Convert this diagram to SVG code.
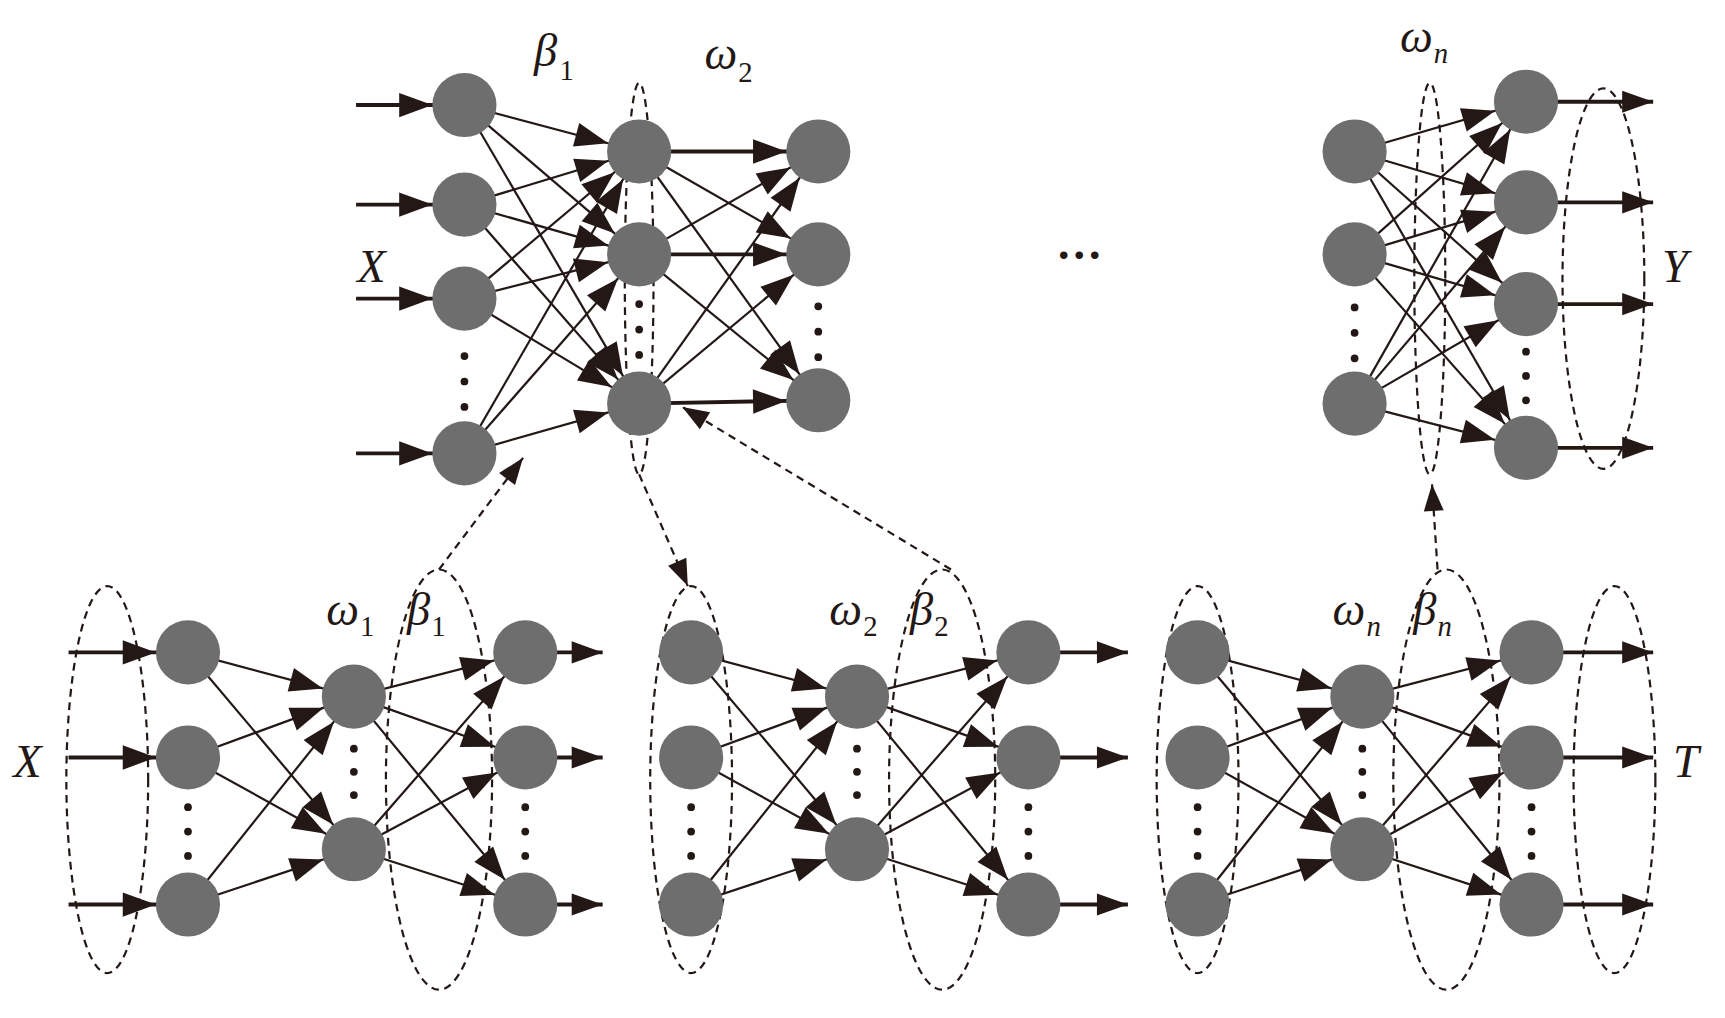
<svg xmlns="http://www.w3.org/2000/svg" width="1725" height="1018" viewBox="0 0 1725 1018">
<style>
.e{stroke:#231815;stroke-width:2;fill:none}
.i{stroke:#231815;stroke-width:3.5;fill:none}
.d{stroke:#231815;stroke-width:2;fill:none;stroke-dasharray:7 5}
.n{fill:#6e6e6e}
.dot{fill:#231815}
text{font-family:"Liberation Serif",serif;font-style:italic;fill:#231815}
.lb{font-size:42px}
.sb{font-size:26px;font-style:normal}
</style>
<defs>
<marker id="a" markerUnits="userSpaceOnUse" markerWidth="70" markerHeight="30" refX="59" refY="11" orient="auto" overflow="visible"><path d="M0,0 L30,11 L0,22 z" fill="#231815"/></marker>
<marker id="t" markerUnits="userSpaceOnUse" markerWidth="40" markerHeight="30" refX="28" refY="10" orient="auto" overflow="visible"><path d="M0,0 L28,10 L0,20 z" fill="#231815"/></marker>
<marker id="s" markerUnits="userSpaceOnUse" markerWidth="40" markerHeight="30" refX="24" refY="9" orient="auto" overflow="visible"><path d="M0,0 L24,9 L0,18 z" fill="#231815"/></marker>
</defs>
<rect width="1725" height="1018" fill="#fff"/>
<g transform="scale(1.1058)">
<g id="connectors">
<line class="i" x1="322" y1="95" x2="420" y2="95" marker-end="url(#a)"/>
<line class="i" x1="322" y1="185" x2="420" y2="185" marker-end="url(#a)"/>
<line class="i" x1="322" y1="270" x2="420" y2="270" marker-end="url(#a)"/>
<line class="i" x1="322" y1="410" x2="420" y2="410" marker-end="url(#a)"/>
<line class="e" x1="420" y1="95" x2="578" y2="137" marker-end="url(#a)"/>
<line class="e" x1="420" y1="95" x2="578" y2="230" marker-end="url(#a)"/>
<line class="e" x1="420" y1="95" x2="578" y2="365" marker-end="url(#a)"/>
<line class="e" x1="420" y1="185" x2="578" y2="137" marker-end="url(#a)"/>
<line class="e" x1="420" y1="185" x2="578" y2="230" marker-end="url(#a)"/>
<line class="e" x1="420" y1="185" x2="578" y2="365" marker-end="url(#a)"/>
<line class="e" x1="420" y1="270" x2="578" y2="137" marker-end="url(#a)"/>
<line class="e" x1="420" y1="270" x2="578" y2="230" marker-end="url(#a)"/>
<line class="e" x1="420" y1="270" x2="578" y2="365" marker-end="url(#a)"/>
<line class="e" x1="420" y1="410" x2="578" y2="137" marker-end="url(#a)"/>
<line class="e" x1="420" y1="410" x2="578" y2="230" marker-end="url(#a)"/>
<line class="e" x1="420" y1="410" x2="578" y2="365" marker-end="url(#a)"/>
<line class="i" x1="578" y1="137" x2="740" y2="137" marker-end="url(#a)"/>
<line class="e" x1="578" y1="137" x2="740" y2="230" marker-end="url(#a)"/>
<line class="e" x1="578" y1="137" x2="740" y2="362" marker-end="url(#a)"/>
<line class="e" x1="578" y1="230" x2="740" y2="137" marker-end="url(#a)"/>
<line class="i" x1="578" y1="230" x2="740" y2="230" marker-end="url(#a)"/>
<line class="e" x1="578" y1="230" x2="740" y2="362" marker-end="url(#a)"/>
<line class="e" x1="578" y1="365" x2="740" y2="137" marker-end="url(#a)"/>
<line class="e" x1="578" y1="365" x2="740" y2="230" marker-end="url(#a)"/>
<line class="i" x1="578" y1="365" x2="740" y2="362" marker-end="url(#a)"/>
<ellipse class="d" cx="578" cy="252" rx="13" ry="177"/>
<line class="e" x1="1225" y1="137" x2="1380" y2="92" marker-end="url(#a)"/>
<line class="e" x1="1225" y1="137" x2="1380" y2="183" marker-end="url(#a)"/>
<line class="e" x1="1225" y1="137" x2="1380" y2="275" marker-end="url(#a)"/>
<line class="e" x1="1225" y1="137" x2="1380" y2="405" marker-end="url(#a)"/>
<line class="e" x1="1225" y1="230" x2="1380" y2="92" marker-end="url(#a)"/>
<line class="e" x1="1225" y1="230" x2="1380" y2="183" marker-end="url(#a)"/>
<line class="e" x1="1225" y1="230" x2="1380" y2="275" marker-end="url(#a)"/>
<line class="e" x1="1225" y1="230" x2="1380" y2="405" marker-end="url(#a)"/>
<line class="e" x1="1225" y1="365" x2="1380" y2="92" marker-end="url(#a)"/>
<line class="e" x1="1225" y1="365" x2="1380" y2="183" marker-end="url(#a)"/>
<line class="e" x1="1225" y1="365" x2="1380" y2="275" marker-end="url(#a)"/>
<line class="e" x1="1225" y1="365" x2="1380" y2="405" marker-end="url(#a)"/>
<line class="i" x1="1380" y1="92" x2="1495" y2="92" marker-end="url(#t)"/>
<line class="i" x1="1380" y1="183" x2="1495" y2="183" marker-end="url(#t)"/>
<line class="i" x1="1380" y1="275" x2="1495" y2="275" marker-end="url(#t)"/>
<line class="i" x1="1380" y1="405" x2="1495" y2="405" marker-end="url(#t)"/>
<ellipse class="d" cx="1293" cy="252" rx="14" ry="177"/>
<ellipse class="d" cx="1450" cy="252" rx="37" ry="172"/>
<line class="i" x1="62" y1="590" x2="170" y2="590" marker-end="url(#a)"/>
<line class="i" x1="62" y1="685" x2="170" y2="685" marker-end="url(#a)"/>
<line class="i" x1="62" y1="818" x2="170" y2="818" marker-end="url(#a)"/>
<line class="e" x1="170" y1="590" x2="320" y2="630" marker-end="url(#a)"/>
<line class="e" x1="170" y1="590" x2="320" y2="768" marker-end="url(#a)"/>
<line class="e" x1="170" y1="685" x2="320" y2="630" marker-end="url(#a)"/>
<line class="e" x1="170" y1="685" x2="320" y2="768" marker-end="url(#a)"/>
<line class="e" x1="170" y1="818" x2="320" y2="630" marker-end="url(#a)"/>
<line class="e" x1="170" y1="818" x2="320" y2="768" marker-end="url(#a)"/>
<line class="e" x1="320" y1="630" x2="475" y2="590" marker-end="url(#a)"/>
<line class="e" x1="320" y1="630" x2="475" y2="685" marker-end="url(#a)"/>
<line class="e" x1="320" y1="630" x2="475" y2="818" marker-end="url(#a)"/>
<line class="e" x1="320" y1="768" x2="475" y2="590" marker-end="url(#a)"/>
<line class="e" x1="320" y1="768" x2="475" y2="685" marker-end="url(#a)"/>
<line class="e" x1="320" y1="768" x2="475" y2="818" marker-end="url(#a)"/>
<line class="i" x1="475" y1="590" x2="545" y2="590" marker-end="url(#t)"/>
<line class="i" x1="475" y1="685" x2="545" y2="685" marker-end="url(#t)"/>
<line class="i" x1="475" y1="818" x2="545" y2="818" marker-end="url(#t)"/>
<ellipse class="d" cx="97" cy="705" rx="37" ry="175"/>
<ellipse class="d" cx="397" cy="705" rx="48" ry="190"/>
<line class="e" x1="625" y1="590" x2="775" y2="630" marker-end="url(#a)"/>
<line class="e" x1="625" y1="590" x2="775" y2="768" marker-end="url(#a)"/>
<line class="e" x1="625" y1="685" x2="775" y2="630" marker-end="url(#a)"/>
<line class="e" x1="625" y1="685" x2="775" y2="768" marker-end="url(#a)"/>
<line class="e" x1="625" y1="818" x2="775" y2="630" marker-end="url(#a)"/>
<line class="e" x1="625" y1="818" x2="775" y2="768" marker-end="url(#a)"/>
<line class="e" x1="775" y1="630" x2="930" y2="590" marker-end="url(#a)"/>
<line class="e" x1="775" y1="630" x2="930" y2="685" marker-end="url(#a)"/>
<line class="e" x1="775" y1="630" x2="930" y2="818" marker-end="url(#a)"/>
<line class="e" x1="775" y1="768" x2="930" y2="590" marker-end="url(#a)"/>
<line class="e" x1="775" y1="768" x2="930" y2="685" marker-end="url(#a)"/>
<line class="e" x1="775" y1="768" x2="930" y2="818" marker-end="url(#a)"/>
<line class="i" x1="930" y1="590" x2="1020" y2="590" marker-end="url(#t)"/>
<line class="i" x1="930" y1="685" x2="1020" y2="685" marker-end="url(#t)"/>
<line class="i" x1="930" y1="818" x2="1020" y2="818" marker-end="url(#t)"/>
<ellipse class="d" cx="625" cy="705" rx="37" ry="175"/>
<ellipse class="d" cx="852" cy="705" rx="48" ry="190"/>
<line class="e" x1="1083" y1="590" x2="1232" y2="630" marker-end="url(#a)"/>
<line class="e" x1="1083" y1="590" x2="1232" y2="768" marker-end="url(#a)"/>
<line class="e" x1="1083" y1="685" x2="1232" y2="630" marker-end="url(#a)"/>
<line class="e" x1="1083" y1="685" x2="1232" y2="768" marker-end="url(#a)"/>
<line class="e" x1="1083" y1="818" x2="1232" y2="630" marker-end="url(#a)"/>
<line class="e" x1="1083" y1="818" x2="1232" y2="768" marker-end="url(#a)"/>
<line class="e" x1="1232" y1="630" x2="1385" y2="590" marker-end="url(#a)"/>
<line class="e" x1="1232" y1="630" x2="1385" y2="685" marker-end="url(#a)"/>
<line class="e" x1="1232" y1="630" x2="1385" y2="818" marker-end="url(#a)"/>
<line class="e" x1="1232" y1="768" x2="1385" y2="590" marker-end="url(#a)"/>
<line class="e" x1="1232" y1="768" x2="1385" y2="685" marker-end="url(#a)"/>
<line class="e" x1="1232" y1="768" x2="1385" y2="818" marker-end="url(#a)"/>
<line class="i" x1="1385" y1="590" x2="1495" y2="590" marker-end="url(#t)"/>
<line class="i" x1="1385" y1="685" x2="1495" y2="685" marker-end="url(#t)"/>
<line class="i" x1="1385" y1="818" x2="1495" y2="818" marker-end="url(#t)"/>
<ellipse class="d" cx="1083" cy="705" rx="37" ry="175"/>
<ellipse class="d" cx="1308" cy="705" rx="48" ry="190"/>
<ellipse class="d" cx="1460" cy="705" rx="37" ry="175"/>
<line class="d" x1="397" y1="515" x2="473" y2="414" marker-end="url(#s)"/>
<line class="d" x1="578" y1="429" x2="622" y2="530" marker-end="url(#s)"/>
<line class="d" x1="860" y1="515" x2="617" y2="368" marker-end="url(#s)"/>
<line class="d" x1="1300" y1="515" x2="1295" y2="438" marker-end="url(#s)"/>
</g>
<g id="nodes">
<g id="a1"><circle class="n" cx="420" cy="95" r="29"/><circle class="n" cx="420" cy="185" r="29"/><circle class="n" cx="420" cy="270" r="29"/><circle class="n" cx="420" cy="410" r="29"/><circle class="dot" cx="420" cy="322" r="3.5"/><circle class="dot" cx="420" cy="345" r="3.5"/><circle class="dot" cx="420" cy="368" r="3.5"/></g>
<g id="a2"><circle class="n" cx="578" cy="137" r="29"/><circle class="n" cx="578" cy="230" r="29"/><circle class="n" cx="578" cy="365" r="29"/><circle class="dot" cx="578" cy="275" r="3.5"/><circle class="dot" cx="578" cy="298" r="3.5"/><circle class="dot" cx="578" cy="321" r="3.5"/></g>
<g id="a3"><circle class="n" cx="740" cy="137" r="29"/><circle class="n" cx="740" cy="230" r="29"/><circle class="n" cx="740" cy="362" r="29"/><circle class="dot" cx="740" cy="277" r="3.5"/><circle class="dot" cx="740" cy="300" r="3.5"/><circle class="dot" cx="740" cy="323" r="3.5"/></g>
<g id="b1"><circle class="n" cx="1225" cy="137" r="29"/><circle class="n" cx="1225" cy="230" r="29"/><circle class="n" cx="1225" cy="365" r="29"/><circle class="dot" cx="1225" cy="278" r="3.5"/><circle class="dot" cx="1225" cy="301" r="3.5"/><circle class="dot" cx="1225" cy="324" r="3.5"/></g>
<g id="b2"><circle class="n" cx="1380" cy="92" r="29"/><circle class="n" cx="1380" cy="183" r="29"/><circle class="n" cx="1380" cy="275" r="29"/><circle class="n" cx="1380" cy="405" r="29"/><circle class="dot" cx="1380" cy="318" r="3.5"/><circle class="dot" cx="1380" cy="340" r="3.5"/><circle class="dot" cx="1380" cy="362" r="3.5"/></g>
<g id="u1"><circle class="n" cx="170" cy="590" r="29"/><circle class="n" cx="170" cy="685" r="29"/><circle class="n" cx="170" cy="818" r="29"/><circle class="dot" cx="170" cy="730" r="3.5"/><circle class="dot" cx="170" cy="752" r="3.5"/><circle class="dot" cx="170" cy="774" r="3.5"/>
<circle class="n" cx="320" cy="630" r="29"/><circle class="n" cx="320" cy="768" r="29"/><circle class="dot" cx="320" cy="677" r="3.5"/><circle class="dot" cx="320" cy="698" r="3.5"/><circle class="dot" cx="320" cy="719" r="3.5"/>
<circle class="n" cx="475" cy="590" r="29"/><circle class="n" cx="475" cy="685" r="29"/><circle class="n" cx="475" cy="818" r="29"/><circle class="dot" cx="475" cy="730" r="3.5"/><circle class="dot" cx="475" cy="752" r="3.5"/><circle class="dot" cx="475" cy="774" r="3.5"/></g>
<g id="u2"><circle class="n" cx="625" cy="590" r="29"/><circle class="n" cx="625" cy="685" r="29"/><circle class="n" cx="625" cy="818" r="29"/><circle class="dot" cx="625" cy="730" r="3.5"/><circle class="dot" cx="625" cy="752" r="3.5"/><circle class="dot" cx="625" cy="774" r="3.5"/>
<circle class="n" cx="775" cy="630" r="29"/><circle class="n" cx="775" cy="768" r="29"/><circle class="dot" cx="775" cy="677" r="3.5"/><circle class="dot" cx="775" cy="698" r="3.5"/><circle class="dot" cx="775" cy="719" r="3.5"/>
<circle class="n" cx="930" cy="590" r="29"/><circle class="n" cx="930" cy="685" r="29"/><circle class="n" cx="930" cy="818" r="29"/><circle class="dot" cx="930" cy="730" r="3.5"/><circle class="dot" cx="930" cy="752" r="3.5"/><circle class="dot" cx="930" cy="774" r="3.5"/></g>
<g id="u3"><circle class="n" cx="1083" cy="590" r="29"/><circle class="n" cx="1083" cy="685" r="29"/><circle class="n" cx="1083" cy="818" r="29"/><circle class="dot" cx="1083" cy="730" r="3.5"/><circle class="dot" cx="1083" cy="752" r="3.5"/><circle class="dot" cx="1083" cy="774" r="3.5"/>
<circle class="n" cx="1232" cy="630" r="29"/><circle class="n" cx="1232" cy="768" r="29"/><circle class="dot" cx="1232" cy="677" r="3.5"/><circle class="dot" cx="1232" cy="698" r="3.5"/><circle class="dot" cx="1232" cy="719" r="3.5"/>
<circle class="n" cx="1385" cy="590" r="29"/><circle class="n" cx="1385" cy="685" r="29"/><circle class="n" cx="1385" cy="818" r="29"/><circle class="dot" cx="1385" cy="730" r="3.5"/><circle class="dot" cx="1385" cy="752" r="3.5"/><circle class="dot" cx="1385" cy="774" r="3.5"/></g>
</g>
<g id="labels">
<text class="lb" x="323" y="255">X</text>
<text class="lb" x="483" y="60">β<tspan class="sb" dx="2" dy="12">1</tspan></text>
<text class="lb" x="637" y="62">ω<tspan class="sb" dx="1" dy="12">2</tspan></text>
<text x="955" y="245" style="font-size:42px;font-style:normal;font-weight:bold">···</text>
<text class="lb" x="1266" y="47">ω<tspan class="sb" dx="1" dy="10" style="font-style:italic">n</tspan></text>
<text class="lb" x="1503" y="255">Y</text>
<text class="lb" x="12" y="703">X</text>
<text class="lb" x="295" y="565">ω<tspan class="sb" dx="1" dy="10">1</tspan></text>
<text class="lb" x="368" y="565">β<tspan class="sb" dx="1" dy="10">1</tspan></text>
<text class="lb" x="750" y="565">ω<tspan class="sb" dx="1" dy="10">2</tspan></text>
<text class="lb" x="823" y="565">β<tspan class="sb" dx="1" dy="10">2</tspan></text>
<text class="lb" x="1205" y="565">ω<tspan class="sb" dx="1" dy="10" style="font-style:italic">n</tspan></text>
<text class="lb" x="1278" y="565">β<tspan class="sb" dx="1" dy="10" style="font-style:italic">n</tspan></text>
<text class="lb" x="1513" y="703">T</text>
</g>
</g>
</svg>
